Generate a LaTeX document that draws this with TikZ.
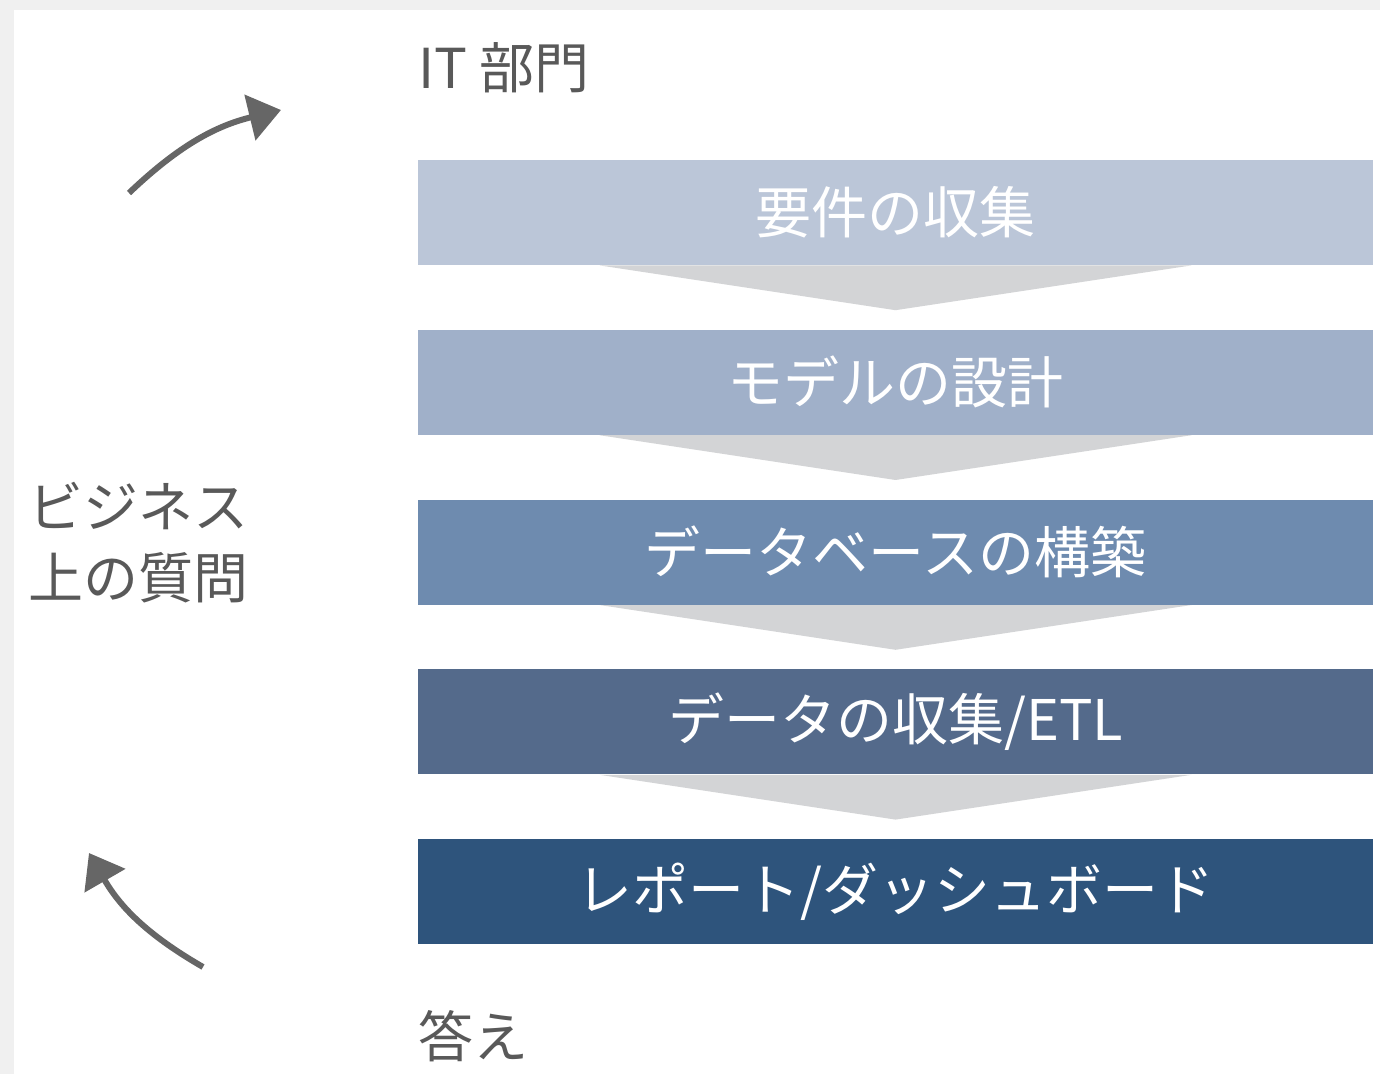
\documentclass[tikz,border=0pt]{standalone}
\usepackage{fontspec}
\setmainfont{Noto Sans CJK JP}
\usetikzlibrary{positioning,calc,arrows.meta}
\definecolor{stageA}{HTML}{BBC6D8}
\definecolor{stageB}{HTML}{A0B0C9}
\definecolor{stageC}{HTML}{6E8BAF}
\definecolor{stageD}{HTML}{546A8B}
\definecolor{stageE}{HTML}{2E547C}
\definecolor{chevgray}{HTML}{D3D4D6}
\definecolor{textgray}{HTML}{595959}
\definecolor{arrowgray}{HTML}{666666}
\definecolor{shadowgray}{HTML}{F0F0F0}
\tikzstyle{stage} = [rectangle, minimum width=477.5pt, minimum height=52.5pt, inner sep=0pt, text=white, font=\fontsize{28}{32}\selectfont]
\tikzstyle{sidetext} = [inner sep=0pt, anchor=west, align=left, text=textgray, font=\fontsize{27.5}{35.5}\selectfont]
\tikzstyle{chevron} = [fill=chevgray]
\tikzstyle{arrow} = [line width=3pt, draw=arrowgray, -{Triangle[length=16pt,width=23pt]}]

\begin{document}
\begin{tikzpicture}[x=0.5pt, y=-0.5pt, node distance=32pt]

% page and shadow
\fill[shadowgray] (0,0) rectangle (1380,1074);
\fill[white] (14,10) rectangle (1380,1074);

\node (b1) [stage, fill=stageA] at (895.5,212.5) {要件の収集};
\node (b2) [stage, fill=stageB, below=of b1] {モデルの設計};
\node (b3) [stage, fill=stageC, below=of b2] {データベースの構築};
\node (b4) [stage, fill=stageD, below=of b3] {データの収集/ETL};
\node (b5) [stage, fill=stageE, below=of b4] {レポート/ダッシュボード};

\fill[chevron] ([xshift=-148pt]b1.south) -- ([xshift=148pt]b1.south) -- ($(b1.south)!0.7!(b2.north)$) -- cycle;
\fill[chevron] ([xshift=-148pt]b2.south) -- ([xshift=148pt]b2.south) -- ($(b2.south)!0.7!(b3.north)$) -- cycle;
\fill[chevron] ([xshift=-148pt]b3.south) -- ([xshift=148pt]b3.south) -- ($(b3.south)!0.7!(b4.north)$) -- cycle;
\fill[chevron] ([xshift=-148pt]b4.south) -- ([xshift=148pt]b4.south) -- ($(b4.south)!0.7!(b5.north)$) -- cycle;

\node (itDept) [sidetext] at (418,68) {IT 部門};
\node (answer) [sidetext] at (418,1036) {答え};
\node (question) [sidetext] at (28,543) {ビジネス\\上の質問};

\coordinate (upTail) at (129,193);
\coordinate (upTip) at (281,110);
\coordinate (backTail) at (203,967);
\coordinate (backTip) at (89,853);
\draw [arrow] (upTail) to[bend left=15] (upTip);
\draw [arrow] (backTail) to[bend left=15] (backTip);

\end{tikzpicture}
\end{document}
